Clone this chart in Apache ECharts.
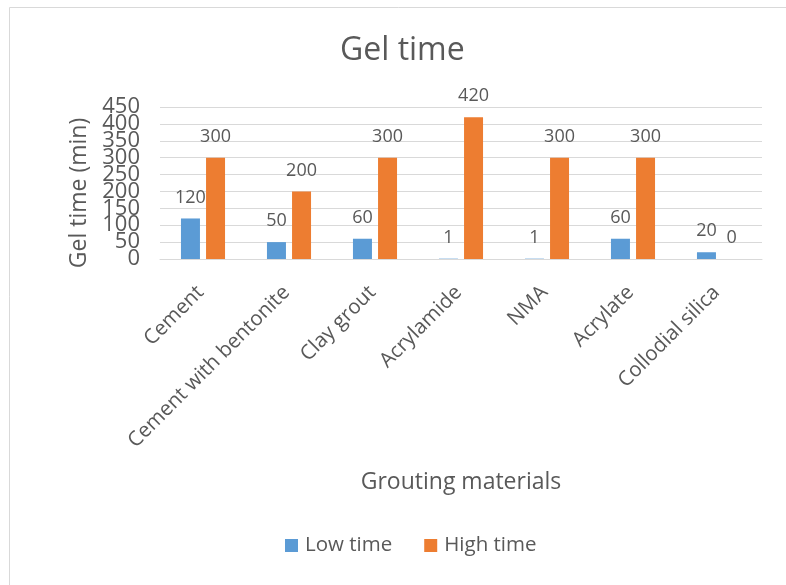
<!DOCTYPE html>
<html>
<head>
<meta charset="utf-8">
<script src="https://cdn.jsdelivr.net/npm/echarts@6/dist/echarts.min.js"></script>
<style>
  html, body { margin: 0; padding: 0; background: #ffffff; }
  #chart { width: 786px; height: 585px; }
</style>
</head>
<body>
<div id="chart"></div>
<script>
// Grouting materials and their gel times (minutes)
const categories = ['Cement', 'Cement with bentonite', 'Clay grout', 'Acrylamide', 'NMA', 'Acrylate', 'Collodial silica'];
const lowTime = [120, 50, 60, 1, 1, 60, 20];
const highTime = [300, 200, 300, 420, 300, 300, 0];
const seriesNames = ['Low time', 'High time'];
const yMin = 0;
const yMax = 450;
const yStep = 50;

const FONT = '"Open Sans", "Noto Sans", sans-serif';
const TEXT = '#595959';
const GRID_LINE = '#D9D9D9';

const chart = echarts.init(document.getElementById('chart'), null, { renderer: 'canvas' });

const labelStyle = {
  show: true,
  position: 'top',
  distance: 12,
  fontFamily: FONT,
  fontSize: 18,
  color: TEXT
};

// The tick labels sit closer than their own height, so even and odd
// ticks are written by two stacked value axes sharing the same scale.
function tickLabel(parity) {
  return function (v) {
    return Math.round(v / yStep) % 2 === parity ? String(v) : '';
  };
}

function valueAxis(parity, withName) {
  return {
    type: 'value',
    position: 'left',
    min: yMin,
    max: yMax,
    interval: yStep,
    name: withName ? 'Gel time (min)' : '',
    nameLocation: 'middle',
    nameGap: 68,
    nameRotate: 90,
    nameTextStyle: { fontFamily: FONT, fontSize: 23, color: TEXT, padding: [0, 20, 0, 0] },
    axisLine: { show: false },
    axisTick: { show: false },
    axisLabel: {
      margin: 20,
      fontFamily: FONT,
      fontSize: 22,
      color: TEXT,
      showMinLabel: true,
      showMaxLabel: true,
      hideOverlap: false,
      formatter: tickLabel(parity)
    },
    splitLine: { show: withName, lineStyle: { color: GRID_LINE, width: 1 } }
  };
}

chart.setOption({
  backgroundColor: '#ffffff',
  animation: false,
  graphic: [{
    type: 'rect',
    shape: { x: 9.5, y: 7.5, width: 800, height: 600 },
    style: { fill: 'none', stroke: GRID_LINE, lineWidth: 1 },
    silent: true
  }],
  title: {
    text: 'Gel time',
    left: 335,
    top: 30,
    textStyle: { fontFamily: FONT, fontSize: 32, fontWeight: 'normal', color: TEXT }
  },
  legend: {
    data: seriesNames,
    left: 280,
    top: 530,
    itemWidth: 13,
    itemHeight: 13,
    itemGap: 32,
    icon: 'rect',
    textStyle: { fontFamily: FONT, fontSize: 20.5, color: TEXT, padding: [0, 0, 0, 2] }
  },
  grid: { left: 160, right: 24, top: 107, bottom: 326, containLabel: false },
  xAxis: {
    type: 'category',
    data: categories,
    name: 'Grouting materials',
    nameLocation: 'middle',
    nameGap: 212,
    nameTextStyle: { fontFamily: FONT, fontSize: 23, color: TEXT },
    axisLine: { lineStyle: { color: GRID_LINE, width: 1 } },
    axisTick: { show: false },
    axisLabel: {
      interval: 0,
      rotate: 45,
      align: 'right',
      verticalAlign: 'top',
      margin: 13,
      padding: [0, 14, 0, 0],
      fontFamily: FONT,
      fontSize: 20.5,
      color: TEXT
    }
  },
  yAxis: [valueAxis(0, true), valueAxis(1, false)],
  series: [
    {
      name: seriesNames[0],
      type: 'bar',
      yAxisIndex: 0,
      data: lowTime,
      barWidth: 19,
      barGap: '32%',
      itemStyle: { color: '#5B9BD5' },
      label: labelStyle
    },
    {
      name: seriesNames[1],
      type: 'bar',
      yAxisIndex: 0,
      data: highTime,
      barWidth: 19,
      barGap: '32%',
      itemStyle: { color: '#ED7D31' },
      label: labelStyle
    }
  ]
});
</script>
</body>
</html>
